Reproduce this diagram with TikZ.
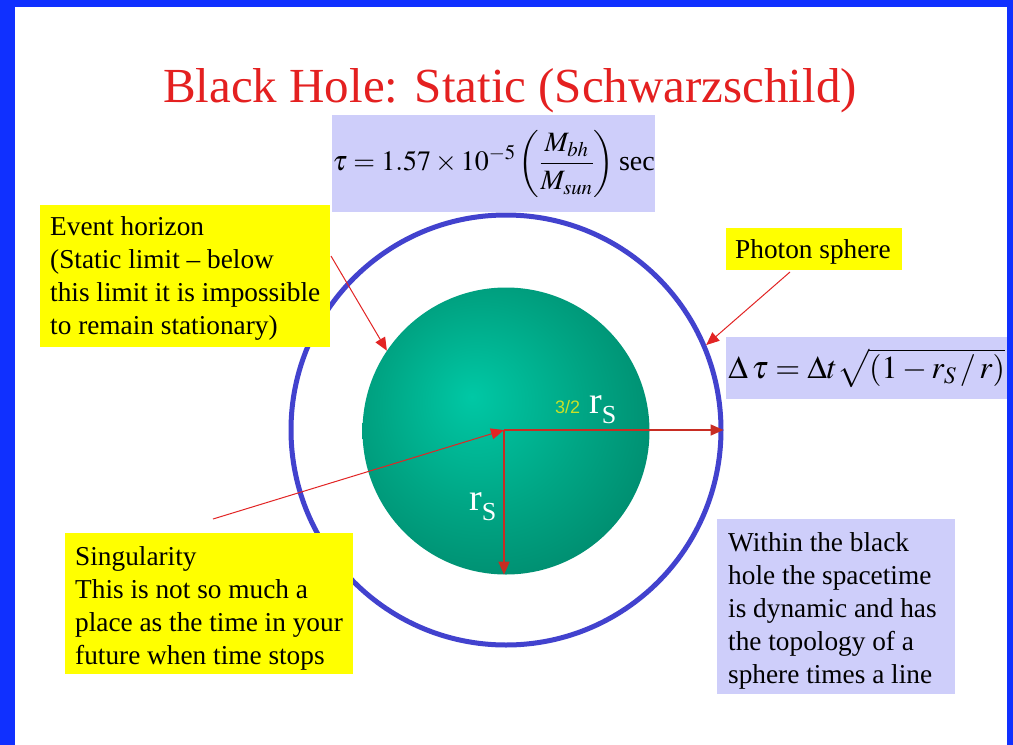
\documentclass[tikz,border=0pt]{standalone}
\usepackage{mathptmx}
\usepackage{fontspec}
\setmainfont{Liberation Serif}
\setsansfont{Liberation Sans}
\usetikzlibrary{arrows.meta}
\definecolor{frameblue}{RGB}{16,48,255}
\definecolor{ringblue}{RGB}{66,66,206}
\definecolor{boxyellow}{RGB}{255,255,0}
\definecolor{boxlav}{RGB}{206,206,250}
\definecolor{titlered}{RGB}{228,32,32}
\definecolor{arrowred}{RGB}{226,36,36}
\definecolor{radred}{RGB}{200,45,35}
\definecolor{sphin}{RGB}{0,200,165}
\definecolor{sphmid}{RGB}{0,165,132}
\definecolor{sphout}{RGB}{0,105,80}
\definecolor{fracgreen}{RGB}{200,225,40}
\pgfdeclareradialshading{sphshade}{\pgfpoint{-6bp}{6bp}}{color(0bp)=(sphin); color(18bp)=(sphmid); color(50bp)=(sphout); color(62bp)=(sphout)}
\tikzset{
  ptr/.style={draw=arrowred, line width=1pt, -{Triangle[length=13pt,width=11pt]}, shorten >=0pt},
  radius/.style={draw=radred, line width=1.6pt, -{Triangle[length=13pt,width=11pt]}},
  ybox/.style={fill=boxyellow, inner sep=0pt, anchor=north west},
  lbox/.style={fill=boxlav, inner sep=0pt, anchor=north west},
  btxt/.style={font=\fontsize{27.3}{32.8}\selectfont, align=left, anchor=base west, inner sep=0pt},
}
\begin{document}
\begin{tikzpicture}[x=1pt,y=-1pt]
\useasboundingbox (0,0) rectangle (1013,745);
\fill[frameblue] (0,0) rectangle (1013,745);
\fill[white] (15,7) rectangle (1007,745);

% title
\node[font=\fontsize{49}{58}\selectfont, text=titlered, anchor=base, inner sep=0pt] (title) at (510,102) {Black Hole: Static (Schwarzschild)};

% formula boxes
\node[lbox, minimum width=323pt, minimum height=97pt] (taubox) at (332,115)
  {\fontsize{28}{34}\selectfont$\displaystyle\tau = 1.57\times10^{-5}\left(\frac{M_{bh}}{M_{sun}}\right)$\,sec};
\node[lbox, minimum width=281pt, minimum height=62pt] (dtbox) at (726,337)
  {\fontsize{32}{38}\selectfont$\Delta\,\tau = \Delta t\sqrt{\left(1 - r_S\,/\,r\right)}$};

% ring and sphere
\node[circle, draw=ringblue, line width=5pt, minimum size=430pt, inner sep=0pt] (ring) at (506,430) {};
\node[circle, shading=sphshade, minimum size=287pt, inner sep=0pt] (sphere) at (506,431) {};
\coordinate (c) at (504,430);

% radius arrows
\draw[radius] (c) -- (c -| ring.east);
\draw[radius] (c) -- (c |- sphere.south);
\node[font=\sffamily\fontsize{18}{18}\selectfont, text=fracgreen, anchor=base west, inner sep=0pt] (k32) at (555,413) {3/2};
\node[text=white, anchor=base west, inner sep=0pt] (rsa) at (589,413) {\fontsize{38}{40}\selectfont r\raisebox{-10pt}{\fontsize{26}{26}\selectfont S}};
\node[text=white, anchor=base west, inner sep=0pt] (rsb) at (469,510) {\fontsize{38}{40}\selectfont r\raisebox{-10pt}{\fontsize{26}{26}\selectfont S}};

% yellow boxes and text (base anchor = baseline of last line)
\node[ybox, minimum width=290pt, minimum height=142pt] (ehbox) at (40,205) {};
\node[btxt] (ehtext) at (50,334) {Event horizon\\(Static limit -- below\\this limit it is impossible\\to remain stationary)};
\node[ybox, minimum width=176pt, minimum height=42pt] (phbox) at (726,228) {};
\node[btxt] (phtext) at (735,258) {Photon sphere};
\node[ybox, minimum width=288pt, minimum height=141pt] (sgbox) at (65,533) {};
\node[btxt] (sgtext) at (75,664) {Singularity\\This is not so much a\\place as the time in your\\future when time stops};
\node[lbox, minimum width=238pt, minimum height=175pt] (wtbox) at (717,519) {};
\node[btxt] (wttext) at (728,683) {Within the black\\hole the spacetime\\is dynamic and has\\the topology of a\\sphere times a line};

% pointer arrows
\coordinate (ehstart) at (331,256);
\coordinate (phstart) at (790,272);
\coordinate (sgstart) at (213,519);
\draw[ptr] (ehstart) -- (sphere.146);
\draw[ptr] (phstart) -- (ring.23);
\draw[ptr] (sgstart) -- (c);
\end{tikzpicture}
\end{document}
